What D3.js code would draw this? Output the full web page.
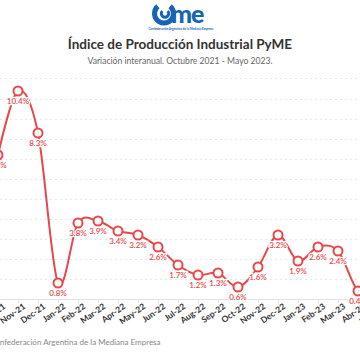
<!DOCTYPE html>
<html><head><meta charset="utf-8">
<script src="https://cdn.jsdelivr.net/npm/d3@7"></script>
<style>body{margin:0;background:#fff}svg{display:block}</style>
</head><body>
<svg id="c" width="360" height="360"></svg>
<script>
const months = ["Oct-21","Nov-21","Dec-21","Jan-22","Feb-22","Mar-22","Apr-22","May-22","Jun-22","Jul-22","Aug-22","Sep-22","Oct-22","Nov-22","Dec-22","Jan-23","Feb-23","Mar-23","Abr-23","May-23"];
const values = [7.2,10.4,8.3,0.8,3.8,3.9,3.4,3.2,2.6,1.7,1.2,1.3,0.6,1.6,3.2,1.9,2.6,2.4,0.4,0.3];
const yTicks = [0,1,2,3,4,5,6,7,8,9,10];
const title = "Índice de Producción Industrial PyME";
const subtitle = "Variación interanual. Octubre 2021 - Mayo 2023.";
const source = "Confederación Argentina de la Mediana Empresa";
const red = "#e8474b";
const font = "Lato, 'Open Sans', sans-serif";

const svg = d3.select("#c");
const x = d3.scalePoint().domain(months).range([-2, 378]);
const y = d3.scaleLinear().domain([0, 10]).range([299, 99]);

// logo
const logo = svg.append("g").attr("fill", "#1763b8");
logo.append("path").attr("d", d3.arc()({innerRadius: 7, outerRadius: 12, startAngle: 0.7, endAngle: 2*Math.PI - 0.7})).attr("transform", "translate(164,13.5)");
logo.append("path").attr("d", d3.arc()({innerRadius: 2.2, outerRadius: 5.2, startAngle: 0.8, endAngle: 2*Math.PI - 0.8})).attr("transform", "translate(165,13.5)");
logo.append("text").attr("x", 171).attr("y", 23).attr("font-family", font).attr("font-weight", 900).attr("font-size", 25).attr("letter-spacing", -1).text("me");
svg.append("text").attr("x", 181).attr("y", 30).attr("text-anchor", "middle").attr("font-family", font).attr("font-weight", 700).attr("font-size", 3).attr("fill", "#1763b8").text(source);

svg.append("text").attr("x", 180).attr("y", 49).attr("text-anchor", "middle").attr("font-family", font).attr("font-weight", 700).attr("font-size", 13.5).attr("fill", "#333").text(title);
svg.append("text").attr("x", 180).attr("y", 64).attr("text-anchor", "middle").attr("font-family", font).attr("font-size", 8.6).attr("fill", "#666").text(subtitle);
svg.append("line").attr("x1", 0).attr("x2", 360).attr("y1", 78.5).attr("y2", 78.5).attr("stroke", "#e4e4e4").attr("stroke-dasharray", "2,3");

// grid
svg.append("g").selectAll("line").data(yTicks.filter(d => d > 0)).join("line")
  .attr("x1", 0).attr("x2", 360).attr("y1", d => Math.round(y(d)) + 0.5).attr("y2", d => Math.round(y(d)) + 0.5)
  .attr("stroke", "#e6e6e6").attr("stroke-dasharray", "2,3");

// x axis
const xa = svg.append("g").attr("transform", `translate(0,${y(0)})`)
  .call(d3.axisBottom(x).tickSize(4).tickSizeOuter(0));
xa.select(".domain").attr("stroke", "#e2e2e2").attr("d", "M0,0.5H360");
xa.selectAll(".tick line").attr("stroke", "#e2e2e2");
xa.selectAll(".tick text").attr("font-family", font).attr("font-weight", 700).attr("font-size", 8.5).attr("fill", "#333")
  .attr("text-anchor", "end").attr("x", 0).attr("y", 0).attr("dy", "0.75em")
  .attr("transform", "translate(4,3.5) rotate(-35)");

// line
svg.append("path").datum(values)
  .attr("d", d3.line().x((d, i) => x(months[i])).y(d => y(d)).curve(d3.curveCatmullRom.alpha(0)))
  .attr("fill", "none").attr("stroke", red).attr("stroke-width", 2);

svg.append("g").selectAll("circle").data(values).join("circle")
  .attr("cx", (d, i) => x(months[i])).attr("cy", d => y(d)).attr("r", 4.5)
  .attr("fill", "#fff").attr("stroke", red).attr("stroke-width", 2);

svg.append("g").selectAll("text").data(values).join("text")
  .attr("x", (d, i) => x(months[i])).attr("y", d => y(d) + 12.5)
  .attr("text-anchor", "middle").attr("font-family", font).attr("font-size", 8).attr("font-weight", 600)
  .attr("fill", red).attr("stroke", "#fff").attr("stroke-width", 2.5).attr("paint-order", "stroke")
  .text(d => d.toFixed(1) + "%");

svg.append("text").attr("x", -10).attr("y", 345).attr("font-family", font).attr("font-size", 8).attr("fill", "#888").text(source);
</script>
</body></html>
